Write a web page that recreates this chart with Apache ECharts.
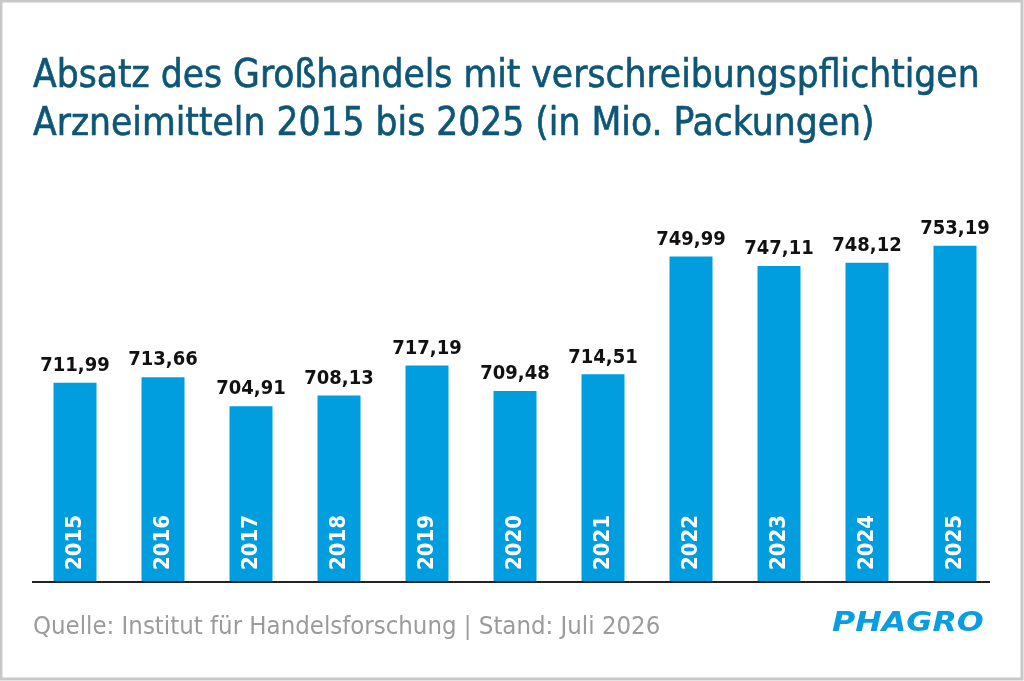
<!DOCTYPE html>
<html>
<head>
<meta charset="utf-8">
<script src="https://cdn.jsdelivr.net/npm/echarts@6/dist/echarts.min.js"></script>
<style>
html,body{margin:0;padding:0;background:#fff;}
#c{width:1024px;height:681px;}
</style>
</head>
<body>
<div id="c"></div>
<script>
const years = ['2015','2016','2017','2018','2019','2020','2021','2022','2023','2024','2025'];
const values = [711.99, 713.66, 704.91, 708.13, 717.19, 709.48, 714.51, 749.99, 747.11, 748.12, 753.19];
const titleText = 'Absatz des Großhandels mit verschreibungspflichtigen\nArzneimitteln 2015 bis 2025 (in Mio. Packungen)';
const sourceText = 'Quelle: Institut für Handelsforschung | Stand: Juli 2026';
const logoText = 'PHAGRO';

const FONT = '"DejaVu Sans Condensed", "DejaVu Sans", sans-serif';
const fmt = v => v.toFixed(2).replace('.', ',');

const chart = echarts.init(document.getElementById('c'), null, {renderer: 'canvas'});
chart.setOption({
  animation: false,
  backgroundColor: '#ffffff',
  title: {
    text: titleText,
    left: 28,
    top: 48,
    textStyle: {
      fontFamily: FONT,
      fontSize: 38.5,
      fontWeight: 'normal',
      color: '#0d5676',
      textBorderColor: '#0d5676',
      textBorderWidth: 0.6,
      lineHeight: 48
    }
  },
  grid: {left: 31, right: 25, top: 170, bottom: 99, containLabel: false},
  xAxis: {
    type: 'category',
    data: years,
    axisLine: {show: false},
    axisTick: {show: false},
    axisLabel: {show: false}
  },
  yAxis: {
    type: 'value',
    min: 652,
    max: 776,
    show: false,
    splitLine: {show: false}
  },
  series: [
    {
      type: 'bar',
      data: values,
      barWidth: 43,
      itemStyle: {color: '#009ddf'},
      label: {
        show: true,
        position: 'top',
        distance: 7,
        formatter: p => fmt(p.value),
        fontFamily: FONT,
        fontWeight: 'bold',
        fontSize: 20,
        color: '#111111'
      }
    },
    {
      type: 'bar',
      data: values,
      barWidth: 43,
      barGap: '-100%',
      itemStyle: {color: 'rgba(0,0,0,0)'},
      label: {
        show: true,
        position: 'insideBottom',
        distance: 12,
        rotate: 90,
        align: 'left',
        verticalAlign: 'middle',
        formatter: p => p.name,
        fontFamily: FONT,
        fontWeight: 'bold',
        fontSize: 22,
        color: '#ffffff'
      }
    }
  ],
  graphic: [
    {
      type: 'rect',
      shape: {x: 1, y: 1, width: 1021, height: 678},
      style: {fill: 'none', stroke: '#c8c8c8', lineWidth: 3},
      silent: true
    },
    {
      type: 'line',
      shape: {x1: 32, y1: 582, x2: 990, y2: 582},
      style: {stroke: '#222222', lineWidth: 2},
      z: 10
    },
    {
      type: 'text',
      left: 33,
      top: 614,
      style: {
        text: sourceText,
        fontFamily: FONT,
        fontSize: 25.5,
        fill: '#9b9b9b'
      }
    },
    {
      type: 'text',
      x: 832,
      y: 611,
      scaleX: 1.22,
      style: {
        text: logoText,
        fontFamily: '"DejaVu Sans", sans-serif',
        fontWeight: 'bold',
        fontStyle: 'italic',
        fontSize: 26,
        fill: '#0a9ee0'
      }
    }
  ]
});
</script>
</body>
</html>
